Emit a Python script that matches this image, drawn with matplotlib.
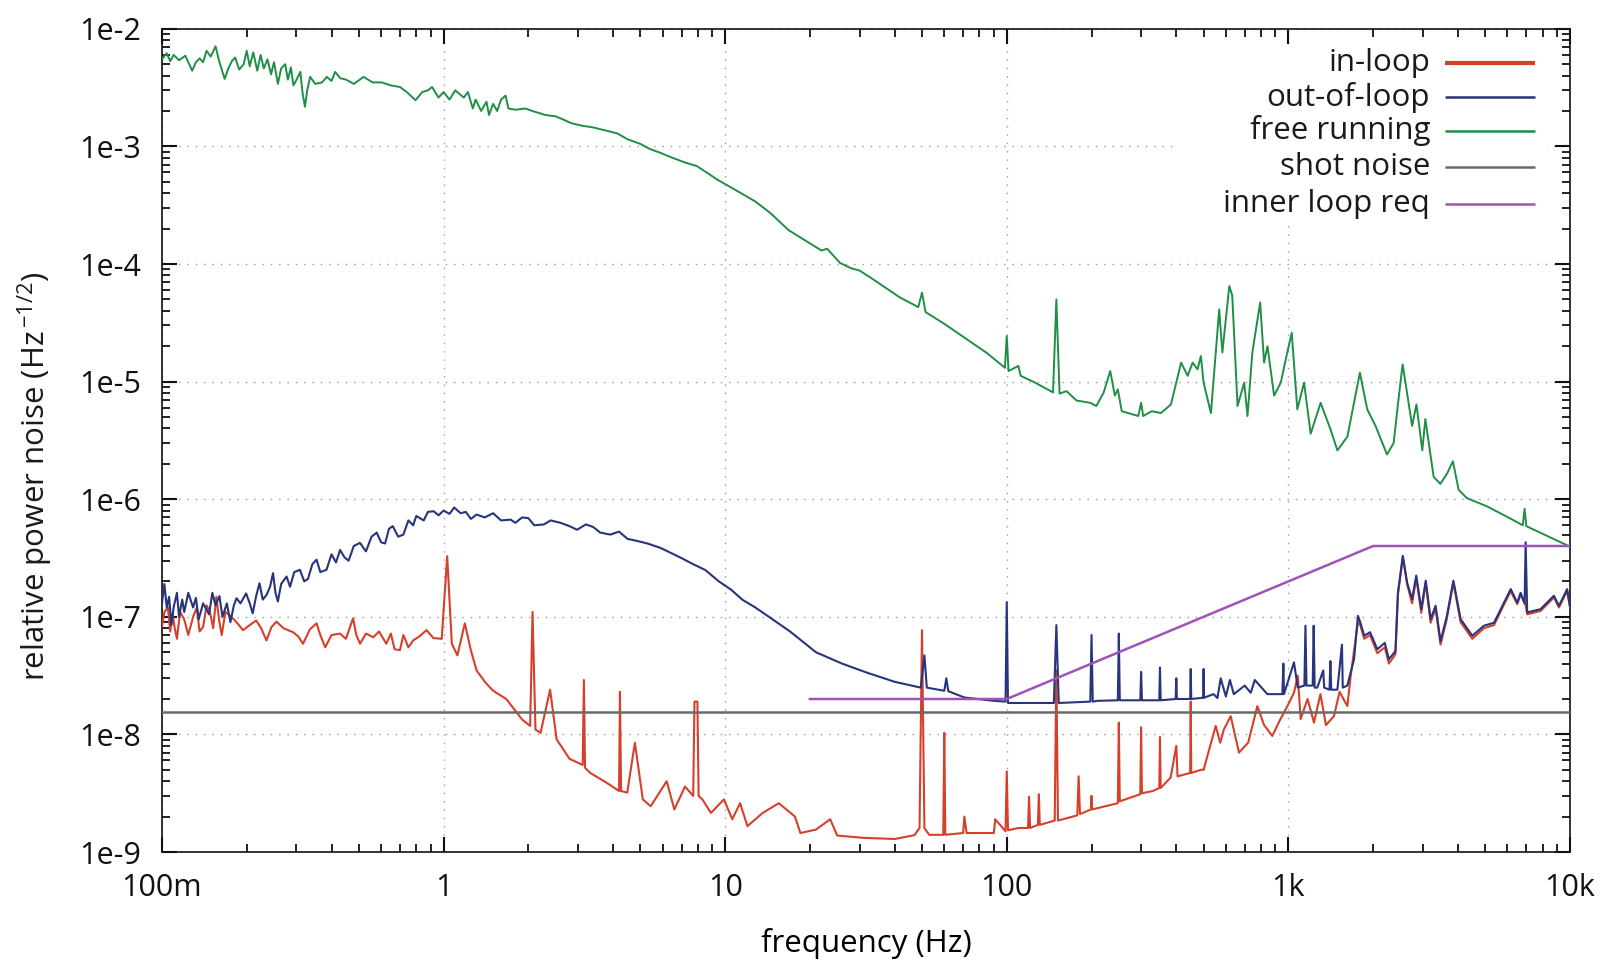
import matplotlib
matplotlib.use("Agg")
import matplotlib.pyplot as plt
from matplotlib.ticker import FixedLocator, FixedFormatter, NullFormatter, LogLocator
from matplotlib.patches import Rectangle

# ---------------- data ----------------
free_f = [0.1, 0.104, 0.107, 0.11, 0.115, 0.121, 0.125, 0.128, 0.132, 0.136, 0.14, 0.144,
          0.149, 0.155, 0.16, 0.167, 0.172, 0.177, 0.182, 0.188, 0.195, 0.2, 0.205, 0.211,
          0.218, 0.224, 0.23, 0.237, 0.244, 0.25, 0.258, 0.265, 0.274, 0.28, 0.287, 0.293,
          0.299, 0.31, 0.316, 0.322, 0.328, 0.336, 0.35, 0.37, 0.385, 0.4, 0.412, 0.43,
          0.45, 0.48, 0.52, 0.56, 0.604, 0.65, 0.7, 0.74, 0.795, 0.84, 0.88, 0.91, 0.96,
          1.0, 1.05, 1.1, 1.18, 1.22, 1.27, 1.3, 1.36, 1.42, 1.45, 1.5, 1.55, 1.6, 1.66,
          1.70, 1.8, 1.95, 2.11, 2.3, 2.5, 2.65, 2.83, 3.1, 3.4, 3.7, 4.14, 4.5, 5.0, 5.4,
          5.9, 6.5, 7.2, 7.93, 8.6, 9.4, 11, 12.8, 14.5, 16.8, 20, 22, 23, 25.6, 28, 30, 33,
          36, 41.7, 48.5, 50, 51.5, 60, 72, 85, 98.5, 100,
          101.5, 110, 112, 124, 146, 150, 154, 163, 177, 198, 208, 221, 233, 242, 248, 256,
          293, 300, 305, 327, 353, 383, 416, 439, 457, 476, 489, 500, 531, 568, 583, 617,
          632, 660, 697, 716, 745, 794, 820, 843, 890, 940, 979, 1028, 1076, 1137, 1200,
          1302, 1413, 1493, 1620, 1711, 1795, 1906, 2040, 2240, 2365, 2460, 2545, 2640,
          2750, 2850, 2990, 3065, 3280, 3465, 3660, 3840, 4025, 4310, 5070, 5970, 6800,
          6900, 7000, 10000]
free_v = [5.5e-3, 6.2e-3, 5.3e-3, 6.0e-3, 5.4e-3, 5.9e-3, 5.0e-3, 4.4e-3, 5.2e-3, 5.6e-3,
          5.2e-3, 6.5e-3, 5.8e-3, 7.1e-3, 5.2e-3, 3.75e-3, 4.6e-3, 5.3e-3, 5.7e-3, 4.5e-3,
          5.0e-3, 6.5e-3, 4.8e-3, 6.3e-3, 4.4e-3, 6.0e-3, 4.6e-3, 5.5e-3, 4.1e-3, 5.2e-3,
          3.4e-3, 4.6e-3, 5.0e-3, 3.7e-3, 4.7e-3, 3.3e-3, 3.6e-3, 4.3e-3, 2.8e-3, 2.17e-3,
          3.0e-3, 3.9e-3, 3.4e-3, 3.5e-3, 3.9e-3, 3.6e-3, 4.3e-3, 3.8e-3, 3.7e-3, 3.4e-3,
          3.9e-3, 3.5e-3, 3.5e-3, 3.3e-3, 3.2e-3, 2.9e-3, 2.47e-3, 2.9e-3, 3.0e-3, 3.2e-3,
          2.6e-3, 2.9e-3, 2.5e-3, 3.0e-3, 2.6e-3, 2.9e-3, 2.1e-3, 2.5e-3, 2.0e-3, 2.4e-3,
          1.85e-3, 2.3e-3, 2.0e-3, 2.5e-3, 2.7e-3, 2.1e-3, 2.05e-3, 2.1e-3, 1.97e-3, 1.85e-3,
          1.8e-3, 1.7e-3, 1.58e-3, 1.5e-3, 1.45e-3, 1.38e-3, 1.29e-3, 1.15e-3, 1.05e-3,
          9.5e-4, 8.8e-4, 8.0e-4, 7.3e-4, 6.8e-4, 6.0e-4, 5.2e-4, 4.2e-4, 3.4e-4, 2.7e-4,
          1.94e-4, 1.5e-4, 1.3e-4, 1.35e-4, 1.02e-4, 9.2e-5, 8.8e-5, 7.6e-5, 6.6e-5, 5.2e-5,
          4.3e-5, 5.7e-5, 3.9e-5, 3.1e-5, 2.3e-5, 1.75e-5, 1.31e-5, 2.44e-5,
          1.23e-5, 1.36e-5, 1.12e-5, 1.0e-5, 8.1e-6,
          5.0e-5, 7.9e-6, 8.3e-6, 6.9e-6, 6.6e-6, 6.2e-6, 8.1e-6, 1.23e-5, 7.6e-6, 8.6e-6,
          5.6e-6, 5.1e-6, 6.6e-6, 5.1e-6, 5.6e-6, 5.4e-6, 6.4e-6, 1.45e-5, 1.12e-5, 1.45e-5,
          1.27e-5, 1.65e-5, 9.8e-6, 5.4e-6, 4.1e-5, 1.77e-5, 6.5e-5, 5.4e-5, 6.2e-6, 9.8e-6,
          5.1e-6, 1.77e-5, 4.7e-5, 1.45e-5, 2.0e-5, 7.6e-6, 9.8e-6, 1.55e-5, 2.6e-5, 5.8e-6,
          9.8e-6, 3.6e-6, 6.6e-6, 3.9e-6, 2.6e-6, 3.4e-6, 6.6e-6, 1.19e-5, 5.8e-6, 4.2e-6,
          2.4e-6, 3.0e-6, 7.0e-6, 1.4e-5, 8.0e-6, 4.2e-6, 6.4e-6, 2.6e-6, 4.8e-6, 1.55e-6,
          1.35e-6, 1.65e-6, 2.1e-6, 1.2e-6, 1.02e-6, 8.7e-7, 7.1e-7, 6.0e-7, 8.3e-7, 5.9e-7,
          3.95e-7]

out_f = [0.1, 0.102, 0.104, 0.106, 0.108, 0.11, 0.113, 0.115, 0.118, 0.12, 0.124, 0.129,
         0.132, 0.135, 0.14, 0.147, 0.151, 0.155, 0.16, 0.164, 0.17, 0.175, 0.18, 0.184,
         0.19, 0.199, 0.205, 0.21, 0.216, 0.222, 0.228, 0.235, 0.242, 0.248, 0.253, 0.258,
         0.265, 0.277, 0.285, 0.295, 0.309, 0.32, 0.33, 0.342, 0.354, 0.365, 0.384, 0.4,
         0.415, 0.429, 0.445, 0.46, 0.48, 0.505, 0.53, 0.555, 0.579, 0.6, 0.62, 0.64, 0.66,
         0.69, 0.72, 0.75, 0.78, 0.8, 0.85, 0.88, 0.922, 0.96, 1.0, 1.05, 1.09, 1.15, 1.2,
         1.25, 1.31, 1.4, 1.5, 1.6, 1.73, 1.8, 1.9, 2.0, 2.1, 2.27, 2.4, 2.6, 2.8, 2.98, 3.2,
         3.4, 3.6, 3.91, 4.2, 4.5, 4.9, 5.3, 5.9, 6.4, 6.99, 7.7, 8.5, 9.5, 10.5, 11.5, 12.8,
         14.3, 17, 21, 26, 32, 40, 49.5, 51,
         52, 60, 61, 62, 70.7, 90, 99, 100, 101, 147, 150, 153, 198, 200, 202, 210, 248, 250,
         252, 298, 300, 302, 348, 350, 352, 398, 400, 402, 448, 450, 452, 498, 500, 502, 542,
         560, 575, 600, 620, 640, 700, 735, 760, 842, 952, 960, 965, 1047, 1080, 1140, 1150,
         1160, 1220, 1230, 1240, 1267, 1330, 1340, 1400, 1410, 1420, 1493, 1550, 1560, 1620,
         1711, 1766, 1800, 1860, 1950, 2070, 2200, 2275, 2400, 2450, 2550, 2640, 2750, 2845,
         2965, 3075, 3200, 3333, 3470, 3650, 3855, 4090, 4500, 4950, 5375, 5830, 6160, 6500,
         6680, 6900, 6960, 7050, 7860, 8770, 9140, 9770, 10000]
out_v = [1.3e-7, 1.9e-7, 1.2e-7, 1.48e-7, 8.5e-8, 1.2e-7, 1.6e-7, 1.0e-7, 1.4e-7, 1.1e-7,
         1.6e-7, 1.2e-7, 1.45e-7, 9.5e-8, 1.3e-7, 1.05e-7, 1.6e-7, 1.25e-7, 1.5e-7, 1.0e-7,
         1.3e-7, 9.0e-8, 1.25e-7, 1.44e-7, 1.3e-7, 1.58e-7, 1.3e-7, 1.07e-7, 1.5e-7, 1.93e-7,
         1.4e-7, 1.53e-7, 1.8e-7, 2.35e-7, 1.6e-7, 1.35e-7, 1.9e-7, 2.2e-7, 1.8e-7, 2.4e-7,
         2.51e-7, 2.0e-7, 2.1e-7, 2.8e-7, 3.06e-7, 2.4e-7, 2.51e-7, 3.4e-7, 2.9e-7, 3.7e-7,
         3.2e-7, 3.0e-7, 4.0e-7, 4.25e-7, 3.6e-7, 4.8e-7, 5.2e-7, 4.3e-7, 4.2e-7, 5.6e-7,
         5.9e-7, 4.8e-7, 5.0e-7, 6.6e-7, 6.0e-7, 7.2e-7, 6.6e-7, 7.8e-7, 7.9e-7, 7.3e-7,
         8.0e-7, 7.5e-7, 8.5e-7, 7.6e-7, 7.8e-7, 6.8e-7, 7.4e-7, 7.0e-7, 7.6e-7, 6.6e-7,
         6.7e-7, 6.3e-7, 7.0e-7, 6.9e-7, 6.0e-7, 6.1e-7, 6.6e-7, 6.3e-7, 5.9e-7, 5.5e-7,
         6.1e-7, 5.8e-7, 5.2e-7, 5.0e-7, 5.3e-7, 4.6e-7, 4.4e-7, 4.2e-7, 3.85e-7, 3.5e-7,
         3.16e-7, 2.8e-7, 2.5e-7, 2.0e-7, 1.7e-7, 1.4e-7, 1.2e-7, 1.0e-7, 7.5e-8, 5.0e-8,
         4.0e-8, 3.34e-8, 2.8e-8, 2.5e-8, 4.7e-8,
         2.5e-8, 2.35e-8, 3.0e-8, 2.33e-8, 2.06e-8,
         1.93e-8, 1.9e-8, 1.33e-7, 1.85e-8, 1.85e-8, 8.5e-8, 1.85e-8, 1.9e-8, 7.0e-8, 1.9e-8,
         1.93e-8, 1.95e-8, 7.2e-8, 1.95e-8, 1.95e-8, 3.4e-8, 1.95e-8, 1.95e-8, 3.7e-8, 1.95e-8,
         2.0e-8, 3.0e-8, 2.0e-8, 2.0e-8, 3.6e-8, 2.0e-8, 2.05e-8, 3.6e-8, 2.05e-8, 2.2e-8,
         2.04e-8, 3.0e-8, 2.1e-8, 2.9e-8, 2.2e-8, 2.6e-8, 2.26e-8, 2.9e-8, 2.2e-8, 2.2e-8,
         4.0e-8, 2.2e-8, 4.1e-8, 2.5e-8, 2.6e-8, 8.4e-8, 2.6e-8, 2.6e-8, 8.4e-8, 2.5e-8,
         2.5e-8, 3.5e-8, 2.5e-8, 2.4e-8, 4.2e-8, 2.4e-8, 2.4e-8, 5.8e-8, 2.5e-8, 2.6e-8,
         4.36e-8, 1.02e-7, 9e-8, 6.9e-8, 7.4e-8, 5.3e-8, 6.0e-8, 4.36e-8, 5.1e-8, 1.61e-7,
         3.3e-7, 1.96e-7, 1.41e-7, 2.24e-7, 1.16e-7, 2.03e-7, 9.55e-8, 1.24e-7, 6.2e-8,
         1.0e-7, 2.03e-7, 9.55e-8, 6.9e-8, 8.4e-8, 8.9e-8, 1.32e-7, 1.72e-7, 1.32e-7, 1.6e-7,
         1.3e-7, 4.3e-7, 1.09e-7, 1.16e-7, 1.51e-7, 1.24e-7, 1.72e-7, 1.24e-7]

in_f = [0.1, 0.102, 0.105, 0.107, 0.109, 0.111, 0.113, 0.116, 0.12, 0.124, 0.129, 0.133,
        0.136, 0.14, 0.144, 0.148, 0.152, 0.156, 0.16, 0.163, 0.168, 0.174, 0.184, 0.194,
        0.205, 0.216, 0.225, 0.235, 0.245, 0.255, 0.27, 0.292, 0.305, 0.317, 0.335, 0.354,
        0.365, 0.38, 0.4, 0.429, 0.45, 0.477, 0.49, 0.505, 0.53, 0.563, 0.59, 0.626, 0.65,
        0.67, 0.7, 0.72, 0.75, 0.78, 0.82, 0.87, 0.92, 0.985,
        1.03, 1.07, 1.12, 1.19, 1.25, 1.31, 1.41, 1.5, 1.67, 1.9,
        2.03, 2.07, 2.12, 2.21, 2.39, 2.52, 2.8, 3.12, 3.15, 3.18, 3.32, 3.78, 4.2, 4.23,
        4.27, 4.49, 4.78, 5.1, 5.44, 6.2, 6.6, 7.2, 7.7, 7.78, 7.97, 8.05, 8.3, 8.9, 9.9,
        10.6, 11.3, 12.0, 13.6, 15.5, 17.7, 18.5, 21, 23.6, 25, 30.9, 40, 47, 49, 50, 51,
        53, 59.5, 60, 60.5, 70, 70.7, 72, 90, 91, 99, 100, 101, 110, 119, 120, 121, 129, 130,
        131, 148, 150, 152, 178, 180, 182, 199, 200, 201, 248, 250, 252, 298, 300, 302, 330,
        348, 350, 352, 382, 400, 404, 448, 450, 452, 489, 500, 552, 573, 590, 624, 668, 720,
        776, 820, 877, 930, 992, 1047, 1080, 1106, 1170, 1233, 1300, 1360, 1452, 1520, 1620,
        1665, 1766, 1800, 1860, 1950, 2070, 2200, 2275, 2400, 2450, 2550, 2640, 2750, 2845,
        2965, 3075, 3200, 3333, 3470, 3650, 3855, 4090, 4500, 4950, 5375, 5830, 6160, 6500,
        6680, 6960, 7050, 7860, 8770, 9140, 9770, 10000]
in_v = [8.2e-8, 1.1e-7, 1.2e-7, 7.5e-8, 1.07e-7, 8.0e-8, 6.5e-8, 1.1e-7, 9.5e-8, 7.0e-8,
        1.0e-7, 1.2e-7, 7.5e-8, 8.2e-8, 1.25e-7, 1.1e-7, 8.0e-8, 1.48e-7, 9.0e-8, 7.0e-8,
        1.1e-7, 1.03e-7, 9.0e-8, 7.7e-8, 8.5e-8, 9.3e-8, 8.0e-8, 6.3e-8, 8.2e-8, 9.1e-8,
        8.0e-8, 7.4e-8, 6.8e-8, 5.9e-8, 7.8e-8, 8.8e-8, 7.0e-8, 5.5e-8, 7.0e-8, 7.2e-8,
        6.5e-8, 9.7e-8, 7.0e-8, 5.9e-8, 7.2e-8, 6.7e-8, 7.5e-8, 5.9e-8, 7.2e-8, 5.3e-8,
        5.2e-8, 7.0e-8, 5.5e-8, 6.3e-8, 6.8e-8, 7.7e-8, 6.6e-8, 6.5e-8,
        3.27e-7, 5.9e-8, 4.7e-8, 8.8e-8, 5.2e-8, 3.5e-8, 2.75e-8, 2.35e-8, 2.0e-8, 1.34e-8,
        1.18e-8, 1.1e-7, 1.1e-8, 1.03e-8, 2.4e-8, 9.1e-9, 6.2e-9, 5.5e-9, 2.9e-8, 5.2e-9,
        4.7e-9, 3.9e-9, 3.3e-9, 2.3e-8, 3.3e-9, 3.2e-9, 8.5e-9, 2.8e-9, 2.45e-9, 4.0e-9,
        2.3e-9, 3.6e-9, 3.0e-9, 1.9e-8, 1.9e-8, 3.0e-9, 2.8e-9, 2.15e-9, 2.8e-9, 1.9e-9,
        2.6e-9, 1.66e-9, 2.15e-9, 2.6e-9, 2.0e-9, 1.45e-9, 1.55e-9, 1.9e-9, 1.38e-9,
        1.32e-9, 1.29e-9, 1.39e-9, 1.6e-9, 7.7e-8, 1.6e-9, 1.4e-9, 1.4e-9, 1.03e-8, 1.4e-9,
        1.45e-9, 2.0e-9, 1.45e-9, 1.45e-9, 1.9e-9, 1.5e-9, 4.85e-9, 1.53e-9, 1.6e-9, 1.6e-9,
        2.95e-9, 1.6e-9, 1.7e-9, 3.1e-9, 1.7e-9, 1.85e-9, 3.5e-8, 1.85e-9, 2.05e-9, 4.4e-9,
        2.1e-9, 2.3e-9, 3.0e-9, 2.3e-9, 2.6e-9, 1.26e-8, 2.7e-9, 3.1e-9, 1.15e-8, 3.16e-9,
        3.3e-9, 3.5e-9, 9.5e-9, 3.5e-9, 4.3e-9, 8e-9, 4.4e-9, 4.7e-9, 1.9e-8, 4.7e-9,
        5.0e-9, 5.0e-9, 1.18e-8, 8.5e-9, 1.1e-8, 1.43e-8, 7.0e-9, 8.5e-9, 1.74e-8, 1.2e-8,
        9.7e-9, 1.3e-8, 1.74e-8, 2.26e-8, 3.16e-8, 1.35e-8, 2.0e-8, 1.26e-8, 2.2e-8, 1.2e-8,
        1.43e-8, 2.3e-8, 1.74e-8, 3.15e-8, 9.0e-8, 8.5e-8, 6.5e-8, 7.0e-8, 4.9e-8, 5.5e-8,
        4.0e-8, 4.8e-8, 1.55e-7, 3.2e-7, 1.9e-7, 1.3e-7, 2.15e-7, 1.08e-7, 1.95e-7, 8.9e-8,
        1.18e-7, 5.8e-8, 9.5e-8, 1.95e-7, 9.0e-8, 6.5e-8, 8.0e-8, 8.5e-8, 1.27e-7, 1.65e-7,
        1.28e-7, 1.55e-7, 1.25e-7, 1.05e-7, 1.12e-7, 1.46e-7, 1.2e-7, 1.66e-7, 1.2e-7]

shot_f = [0.1, 10000]
shot_v = [1.55e-8, 1.55e-8]

req_f = [20, 100, 2000, 10000]
req_v = [2.0e-8, 2.0e-8, 4.0e-7, 4.0e-7]

x_ticks = [0.1, 1, 10, 100, 1000, 10000]
x_labels = ["100m", "1", "10", "100", "1k", "10k"]
y_ticks = [1e-9, 1e-8, 1e-7, 1e-6, 1e-5, 1e-4, 1e-3, 1e-2]
y_labels = ["1e-9", "1e-8", "1e-7", "1e-6", "1e-5", "1e-4", "1e-3", "1e-2"]

series_labels = ["in-loop", "out-of-loop", "free running", "shot noise", "inner loop req"]
colors = ["#d6402b", "#28347c", "#1f8f45", "#6a6a6a", "#a052b8"]

# ---------------- styling ----------------
plt.rcParams['font.family'] = ['Open Sans', 'DejaVu Sans']
plt.rcParams['mathtext.fontset'] = 'custom'
plt.rcParams['mathtext.rm'] = 'Open Sans'
plt.rcParams['mathtext.it'] = 'Open Sans:italic'
plt.rcParams['mathtext.bf'] = 'Open Sans:bold'
plt.rcParams['text.color'] = '#1a1a1a'

fig = plt.figure(figsize=(16.02, 9.6), dpi=100)
ax = fig.add_axes([0.1011, 0.1125, 0.8789, 0.8575])
ax.set_xscale('log')
ax.set_yscale('log')
ax.set_xlim(0.1, 1e4)
ax.set_ylim(1e-9, 1e-2)

ax.plot(in_f, in_v, color=colors[0], lw=1.5, zorder=3)
ax.plot(out_f, out_v, color=colors[1], lw=1.5, zorder=4)
ax.plot(free_f, free_v, color=colors[2], lw=1.4, zorder=5)
ax.plot(shot_f, shot_v, color=colors[3], lw=1.8, zorder=6)
ax.plot(req_f, req_v, color=colors[4], lw=1.8, zorder=7)

# ticks
ax.xaxis.set_major_locator(FixedLocator(x_ticks))
ax.xaxis.set_major_formatter(FixedFormatter(x_labels))
ax.yaxis.set_major_locator(FixedLocator(y_ticks))
ax.yaxis.set_major_formatter(FixedFormatter(y_labels))
ax.xaxis.set_minor_locator(LogLocator(base=10, subs=range(2, 10), numticks=20))
ax.yaxis.set_minor_locator(LogLocator(base=10, subs=range(2, 10), numticks=20))
ax.xaxis.set_minor_formatter(NullFormatter())
ax.yaxis.set_minor_formatter(NullFormatter())
ax.tick_params(which='both', direction='in', top=True, right=True, colors='#111111')
ax.tick_params(which='major', length=11, width=1.5, labelsize=22)
ax.tick_params(which='minor', length=6, width=1.3)
ax.tick_params(axis='x', which='major', pad=15)
ax.tick_params(axis='y', which='major', pad=15)
for s in ax.spines.values():
    s.set_linewidth(1.2)
    s.set_color('#111111')

ax.grid(True, which='major', color='#9a9a9a', linestyle=(0, (1, 5)), linewidth=1.0)
ax.set_axisbelow(True)

ax.set_xlabel("frequency (Hz)", fontsize=22.5, labelpad=18)
ax.text(-0.090, 0.457, r"relative power noise (Hz$^{\,\mathrm{-1/2}}$)", transform=ax.transAxes,
        rotation=90, ha='center', va='center', fontsize=22.5)

# legend (gnuplot style: right-aligned text, sample line at right)
ax.add_patch(Rectangle((0.718, 0.762), 0.266, 0.216, transform=ax.transAxes,
                       facecolor='white', edgecolor='none', zorder=1))
leg_y = [0.959, 0.917, 0.876, 0.832, 0.787]
leg_lw = [3.0, 1.8, 1.8, 1.8, 1.8]
for lab, col, yy, lw in zip(series_labels, colors, leg_y, leg_lw):
    ax.text(0.9006, yy, lab, transform=ax.transAxes, ha='right', va='center',
            fontsize=22.5, zorder=10)
    ax.plot([0.911, 0.975], [yy, yy], transform=ax.transAxes, color=col, lw=lw,
            zorder=10, solid_capstyle='butt')

fig.savefig("out.png", dpi=100)
